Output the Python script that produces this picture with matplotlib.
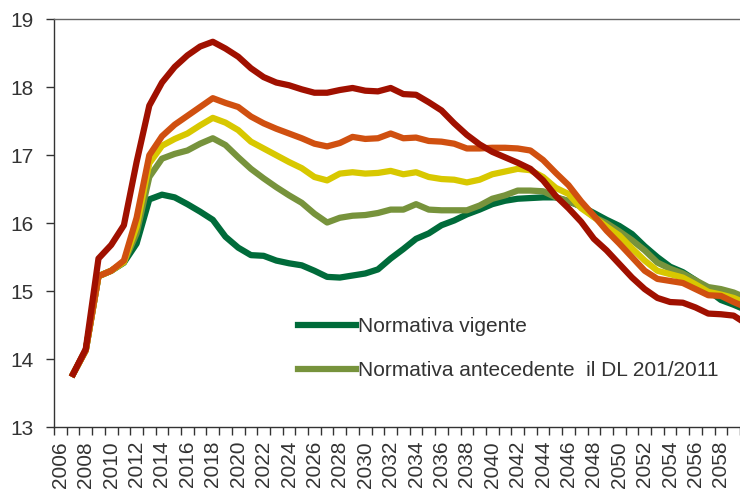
import matplotlib
matplotlib.use('Agg')
import matplotlib.pyplot as plt
import numpy as np

years = list(range(2007, 2061))

vigente = [13.78, 14.13, 15.22, 15.30, 15.42, 15.70, 16.35, 16.42, 16.38, 16.28,
           16.17, 16.05, 15.80, 15.64, 15.53, 15.52, 15.45, 15.41, 15.38, 15.30,
           15.21, 15.20, 15.23, 15.26, 15.32, 15.48, 15.62, 15.77, 15.85, 15.97,
           16.04, 16.13, 16.20, 16.28, 16.33, 16.36, 16.37, 16.38, 16.38, 16.32,
           16.25, 16.15, 16.05, 15.96, 15.84, 15.66, 15.50, 15.36, 15.28, 15.16,
           15.01, 14.87, 14.80, 14.72]

antecedente = [13.78, 14.13, 15.22, 15.30, 15.42, 15.85, 16.68, 16.95, 17.02, 17.07,
               17.17, 17.25, 17.15, 16.97, 16.80, 16.66, 16.53, 16.41, 16.30, 16.14,
               16.01, 16.08, 16.11, 16.12, 16.15, 16.20, 16.20, 16.28, 16.20, 16.19,
               16.19, 16.19, 16.26, 16.36, 16.41, 16.48, 16.48, 16.47, 16.38, 16.33,
               16.24, 16.09, 16.00, 15.88, 15.75, 15.60, 15.42, 15.33, 15.26, 15.16,
               15.06, 15.03, 14.98, 14.90]

giallo = [13.78, 14.13, 15.22, 15.30, 15.43, 15.95, 16.88, 17.14, 17.24, 17.32,
          17.44, 17.55, 17.48, 17.37, 17.20, 17.10, 17.00, 16.90, 16.81, 16.68,
          16.63, 16.73, 16.75, 16.73, 16.74, 16.77, 16.72, 16.75, 16.68, 16.65,
          16.64, 16.60, 16.64, 16.72, 16.76, 16.80, 16.78, 16.68, 16.52, 16.43,
          16.22, 16.09, 15.95, 15.82, 15.63, 15.45, 15.30, 15.25, 15.20, 15.10,
          14.99, 14.95, 14.90, 14.82]

arancio = [13.78, 14.13, 15.22, 15.30, 15.45, 16.08, 17.00, 17.28, 17.45, 17.58,
           17.71, 17.84, 17.77, 17.71, 17.57, 17.47, 17.39, 17.32, 17.25, 17.17,
           17.13, 17.18, 17.27, 17.24, 17.25, 17.32, 17.25, 17.26, 17.21, 17.20,
           17.17, 17.10, 17.10, 17.11, 17.11, 17.10, 17.07, 16.93, 16.74, 16.56,
           16.32, 16.11, 15.89, 15.70, 15.50, 15.30, 15.18, 15.15, 15.12, 15.03,
           14.94, 14.93, 14.84, 14.76]

rosso = [13.78, 14.15, 15.48, 15.68, 15.97, 16.90, 17.73, 18.07, 18.30, 18.47,
         18.60, 18.67, 18.57, 18.45, 18.28, 18.15, 18.07, 18.03, 17.97, 17.92,
         17.92, 17.96, 17.99, 17.95, 17.94, 17.99, 17.90, 17.89, 17.78, 17.66,
         17.47, 17.30, 17.16, 17.05, 16.97, 16.89, 16.80, 16.63, 16.40, 16.22,
         16.02, 15.77, 15.60, 15.40, 15.20, 15.03, 14.90, 14.84, 14.83, 14.76,
         14.67, 14.66, 14.64, 14.52]

label_vigente = 'Normativa vigente'
label_antecedente = 'Normativa antecedente  il DL 201/2011'

plt.rcParams['font.family'] = ['Liberation Sans', 'DejaVu Sans']

fig = plt.figure(figsize=(7.4, 4.96), dpi=100)
ax = fig.add_axes([0.073, 0.139, 0.927, 0.822])

lw = 4.5
ax.plot(years, vigente, color='#006B3A', lw=lw, solid_joinstyle='round', label=label_vigente)
ax.plot(years, antecedente, color='#77933C', lw=lw, solid_joinstyle='round', label=label_antecedente)
ax.plot(years, giallo, color='#D8C800', lw=lw, solid_joinstyle='round')
ax.plot(years, arancio, color='#D05010', lw=lw, solid_joinstyle='round')
ax.plot(years, rosso, color='#A01000', lw=lw, solid_joinstyle='round')

ax.set_xlim(2005.5, 2059.5)
ax.set_ylim(13, 19)

ax.set_yticks(range(13, 20))
ax.tick_params(axis='y', direction='out', length=6, width=1, pad=9,
               labelsize=15, colors='#333333')

ax.set_xticks(range(2006, 2060, 2))
ax.set_xticklabels([str(y) for y in range(2006, 2060, 2)], rotation=90)
ax.set_xticks(np.arange(2005.5, 2060, 1), minor=True)
ax.tick_params(axis='x', which='major', length=0, pad=10, labelsize=15, colors='#333333')
ax.tick_params(axis='x', which='minor', direction='out', length=6, width=1, color='#333333')

for s in ['left', 'bottom']:
    ax.spines[s].set_color('#333333')
    ax.spines[s].set_linewidth(1)
ax.spines['top'].set_color('#666666')
ax.spines['top'].set_linewidth(1)
ax.spines['right'].set_visible(False)

ax.legend(loc='upper left', bbox_to_anchor=(0.356, 0.27), frameon=False,
          fontsize=15, handlelength=2.75, handletextpad=0.1, labelspacing=1.2,
          borderpad=0, borderaxespad=0, labelcolor='#333333')

fig.savefig('out.png', dpi=100)
